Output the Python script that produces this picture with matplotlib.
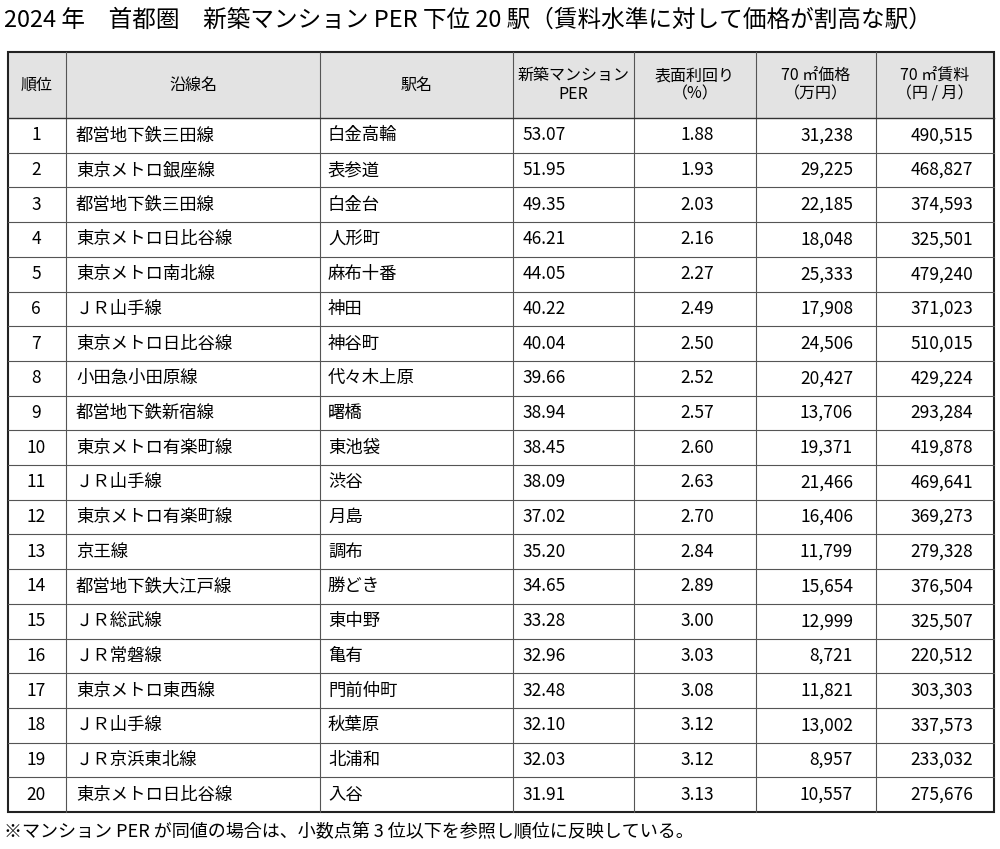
import matplotlib
matplotlib.use("Agg")
import matplotlib.pyplot as plt
from matplotlib.patches import Rectangle

plt.rcParams["font.family"] = "Noto Sans CJK JP"

title = "2024 年　首都圏　新築マンション PER 下位 20 駅（賃料水準に対して価格が割高な駅）"
footnote = "※マンション PER が同値の場合は、小数点第 3 位以下を参照し順位に反映している。"
headers = ["順位", "沿線名", "駅名", "新築マンション\nPER", "表面利回り\n（%）", "70 ㎡価格\n（万円）", "70 ㎡賃料\n（円 / 月）"]
ranks = list(range(1, 21))
lines = ["都営地下鉄三田線", "東京メトロ銀座線", "都営地下鉄三田線", "東京メトロ日比谷線", "東京メトロ南北線",
         "ＪＲ山手線", "東京メトロ日比谷線", "小田急小田原線", "都営地下鉄新宿線", "東京メトロ有楽町線",
         "ＪＲ山手線", "東京メトロ有楽町線", "京王線", "都営地下鉄大江戸線", "ＪＲ総武線",
         "ＪＲ常磐線", "東京メトロ東西線", "ＪＲ山手線", "ＪＲ京浜東北線", "東京メトロ日比谷線"]
stations = ["白金高輪", "表参道", "白金台", "人形町", "麻布十番", "神田", "神谷町", "代々木上原", "曙橋", "東池袋",
            "渋谷", "月島", "調布", "勝どき", "東中野", "亀有", "門前仲町", "秋葉原", "北浦和", "入谷"]
per = ["53.07", "51.95", "49.35", "46.21", "44.05", "40.22", "40.04", "39.66", "38.94", "38.45",
       "38.09", "37.02", "35.20", "34.65", "33.28", "32.96", "32.48", "32.10", "32.03", "31.91"]
yields = ["1.88", "1.93", "2.03", "2.16", "2.27", "2.49", "2.50", "2.52", "2.57", "2.60",
          "2.63", "2.70", "2.84", "2.89", "3.00", "3.03", "3.08", "3.12", "3.12", "3.13"]
price = ["31,238", "29,225", "22,185", "18,048", "25,333", "17,908", "24,506", "20,427", "13,706", "19,371",
         "21,466", "16,406", "11,799", "15,654", "12,999", "8,721", "11,821", "13,002", "8,957", "10,557"]
rent = ["490,515", "468,827", "374,593", "325,501", "479,240", "371,023", "510,015", "429,224", "293,284", "419,878",
        "469,641", "369,273", "279,328", "376,504", "325,507", "220,512", "303,303", "337,573", "233,032", "275,676"]

fig = plt.figure(figsize=(10, 8.49), dpi=100)
ax = fig.add_axes([0, 0, 1, 1])
ax.set_xlim(0, 1000); ax.set_ylim(849, 0); ax.axis("off")

cols = [8, 66, 320, 513, 634, 756, 876, 994]
top, htop, bot = 52, 118, 812
rh = (bot - htop) / 20
fs = 12.5

ax.text(4, 20, title, fontsize=17, va="center", ha="left")
ax.add_patch(Rectangle((cols[0], top), cols[-1] - cols[0], htop - top, facecolor="#e3e3e3", edgecolor="none"))
for i, h in enumerate(headers):
    ax.text((cols[i] + cols[i + 1]) / 2, (top + htop) / 2, h, fontsize=11.5, ha="center", va="center", linespacing=1.1)

for x in cols[1:-1]:
    ax.plot([x, x], [top, bot], color="#555", lw=0.8)
ax.plot([cols[0], cols[-1]], [htop, htop], color="#333", lw=1.0)
for r in range(1, 20):
    y = htop + r * rh
    ax.plot([cols[0], cols[-1]], [y, y], color="#555", lw=0.8)
ax.add_patch(Rectangle((cols[0], top), cols[-1] - cols[0], bot - top, facecolor="none", edgecolor="#222", lw=1.5))

for r in range(20):
    y = htop + (r + 0.5) * rh
    ax.text(36, y, str(ranks[r]), fontsize=fs, ha="center", va="center")
    ax.text(76, y, lines[r], fontsize=fs, ha="left", va="center")
    ax.text(328, y, stations[r], fontsize=fs, ha="left", va="center")
    ax.text(566, y, per[r], fontsize=fs, ha="right", va="center")
    ax.text(714, y, yields[r], fontsize=fs, ha="right", va="center")
    ax.text(853, y, price[r], fontsize=fs, ha="right", va="center")
    ax.text(973, y, rent[r], fontsize=fs, ha="right", va="center")

ax.text(4, 832, footnote, fontsize=13, ha="left", va="center")
fig.savefig("out.png", dpi=100)
